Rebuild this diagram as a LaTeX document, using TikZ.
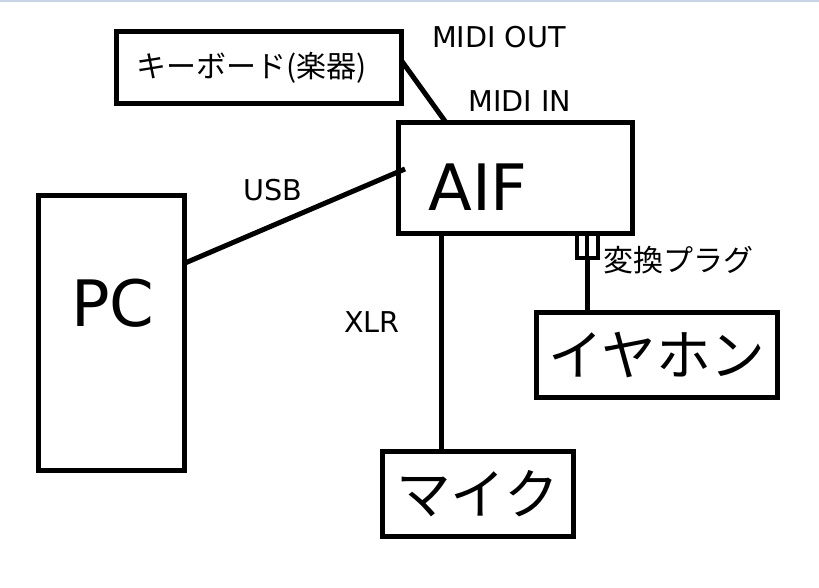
\documentclass[tikz,border=0pt]{standalone}
\usepackage{fontspec}
\setmainfont{DejaVu Sans}
\newfontfamily\jp{Noto Sans CJK JP}
\usetikzlibrary{calc}
\definecolor{topbar}{RGB}{200,212,230}
\begin{document}
\begin{tikzpicture}[x=0.75pt,y=-0.75pt,
  box/.style={draw, line width=3.75pt, outer sep=0pt, inner sep=0pt},
  wire/.style={line width=3.75pt},
  lbl/.style={font=\fontsize{21.5}{25}\selectfont, inner sep=0pt},
  big/.style={font=\fontsize{48}{56}\selectfont, inner sep=0pt},
  jbig/.style={font=\jp\fontsize{41}{48}\selectfont},
  jsmall/.style={font=\jp\fontsize{22.5}{27}\selectfont}]
\useasboundingbox[fill=white] (0,0) rectangle (819,587);
\fill[topbar] (0,0) rectangle (819,1.5);

% boxes
\node[box, minimum width=213.75pt, minimum height=54pt] (kb) at (258.5,67) {};
\node[jsmall, inner sep=0pt] (kbtext) at (252,68) {キーボード(楽器)};
\node[box, minimum width=175.5pt, minimum height=82.9pt] (aif) at (515.5,177.75) {};
\node[big] (aiftext) at (478,187) {AIF};
\node[box, minimum width=109.5pt, minimum height=206.6pt] (pc) at (111.5,333.25) {};
\node[big] (pctext) at (113,303) {PC};
\node[box, jbig, minimum width=143.25pt, minimum height=63.75pt] (mike) at (477.5,493.5) {マイク};
\node[box, jbig, minimum width=180.75pt, minimum height=64.1pt] (iyahon) at (657,355.25) {イヤホン};

% labels
\node[lbl] (midiout) at (499,37) {MIDI OUT};
\node[lbl] (midiin) at (520,101) {MIDI IN};
\node[lbl] (usb) at (273,190) {USB};
\node[lbl] (xlr) at (372,322) {XLR};
\node[jsmall, inner sep=0pt] (plugl) at (678,260) {変換プラグ};

% connectors
\draw[wire] ([yshift=5.25pt]kb.east) -- ([xshift=35.6pt]aif.north west);
\draw[wire] ([yshift=52.5pt]pc.east) -- ([xshift=4.9pt,yshift=6.6pt]aif.west);
\coordinate (xlrtop) at ([xshift=32.6pt]aif.south west);
\draw[wire] (xlrtop) -- (xlrtop |- mike.north);
\coordinate (plugtop) at ([xshift=141.4pt]aif.south west);
\draw[line width=3.4pt, line join=miter] ($(plugtop)+(-10,0)$) -- ($(plugtop)+(-10,25)$) -- ($(plugtop)+(11,25)$) -- ($(plugtop)+(11,0)$);
\draw[line width=3.4pt] (plugtop) -- ($(plugtop)+(0,25)$);
\draw[wire] ($(plugtop)+(0,25)$) -- (plugtop |- iyahon.north);
\end{tikzpicture}
\end{document}
